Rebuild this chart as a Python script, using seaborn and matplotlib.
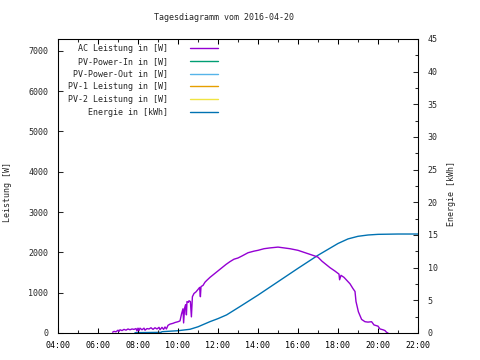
import numpy as np
import pandas as pd
import matplotlib
matplotlib.use("Agg")
import matplotlib.pyplot as plt
import seaborn as sns

# ---------------- data ----------------
title = "Tagesdiagramm vom 2016-04-20"
series_labels = ["AC Leistung in [W]", "PV-Power-In in [W]", "PV-Power-Out in [W]",
                 "PV-1 Leistung in [W]", "PV-2 Leistung in [W]", "Energie in [kWh]"]
series_colors = ["#9400D3", "#009E73", "#56B4E9", "#E69F00", "#F0E442", "#0072B2"]

ac_time = [6.73, 6.80, 6.90, 7.00, 7.05, 7.10, 7.20, 7.30, 7.40, 7.50, 7.60, 7.70, 7.80,
           7.90, 7.95, 8.00, 8.05, 8.10, 8.20, 8.30, 8.35, 8.45, 8.55, 8.65, 8.75, 8.85,
           8.95, 9.05, 9.10, 9.20, 9.28, 9.35, 9.42, 9.50, 9.60, 9.75, 9.85, 10.00, 10.10,
           10.18, 10.25, 10.28, 10.33, 10.38, 10.42, 10.45, 10.52, 10.55, 10.62, 10.67,
           10.72, 10.80, 10.90, 11.00, 11.08, 11.12, 11.15, 11.25, 11.35, 11.45, 11.60,
           11.75, 11.90, 12.00, 12.20, 12.40, 12.60, 12.80, 13.00, 13.20, 13.50, 13.80,
           14.00, 14.30, 14.60, 15.00, 15.30, 15.60, 16.00, 16.30, 16.60, 16.90, 17.00,
           17.20, 17.40, 17.60, 17.85, 18.05, 18.08, 18.15, 18.30, 18.45, 18.60, 18.75,
           18.85, 18.90, 19.02, 19.18, 19.35, 19.50, 19.68, 19.80, 20.00, 20.10, 20.25,
           20.35, 20.43, 20.50]
ac_power = [20, 40, 30, 70, 40, 80, 60, 90, 70, 100, 80, 100, 90,
            110, 50, 120, 60, 120, 80, 120, 70, 110, 100, 130, 90, 130,
            100, 140, 80, 140, 90, 150, 100, 190, 220, 240, 260, 280, 300,
            480, 600, 250, 620, 700, 450, 780, 760, 800, 780, 400,
            900, 980, 1020, 1080, 1130, 900, 1150, 1180, 1260, 1310, 1380,
            1440, 1500, 1540, 1620, 1700, 1770, 1830, 1860, 1910, 1990, 2030,
            2050, 2090, 2110, 2130, 2110, 2090, 2050, 2000, 1950, 1900, 1880,
            1780, 1700, 1620, 1535, 1460, 1320, 1430, 1380, 1300, 1220, 1100,
            1030, 780, 525, 337, 280, 270, 280, 200, 170, 100, 80,
            60, 16, 0]

pv_in_time, pv_in_power = [], []
pv_out_time, pv_out_power = [], []
pv1_time, pv1_power = [], []
pv2_time, pv2_power = [], []

energy_time = [7.85, 9.15, 9.20, 10.0, 10.6, 11.0, 11.6, 12.0, 12.43, 13.1, 14.0, 15.0,
               16.0, 17.0, 18.0, 18.5, 19.0, 19.5, 20.0, 21.0, 22.0]
energy_kwh = [0.05, 0.1, 0.2, 0.35, 0.57, 0.95, 1.74, 2.2, 2.77, 4.05, 5.8, 7.85,
              9.9, 11.9, 13.7, 14.4, 14.8, 15.0, 15.1, 15.15, 15.15]

x_ticks = [4, 6, 8, 10, 12, 14, 16, 18, 20, 22]
x_ticklabels = ["04:00", "06:00", "08:00", "10:00", "12:00", "14:00", "16:00",
                "18:00", "20:00", "22:00"]
y1_ticks = [0, 1000, 2000, 3000, 4000, 5000, 6000, 7000]
y2_ticks = [0, 5, 10, 15, 20, 25, 30, 35, 40, 45]
y1_label = "Leistung [W]"
y2_label = "Energie [kWh]"

# ---------------- style ----------------
sns.set_style("ticks")
plt.rcParams["font.family"] = ["DejaVu Sans Mono", "DejaVu Sans"]
fs = 6

W, H = 480, 360
fig = plt.figure(figsize=(4.8, 3.6), dpi=100)
ax = fig.add_axes([58 / W, 27 / H, 360 / W, 294 / H])
ax2 = ax.twinx()
ax.set_zorder(2)
ax.patch.set_visible(False)

ac_df = pd.DataFrame({"t": ac_time, "p": ac_power})
en_df = pd.DataFrame({"t": energy_time, "e": energy_kwh})

sns.lineplot(data=ac_df, x="t", y="p", ax=ax, color=series_colors[0], lw=1.0,
             estimator=None, sort=False, legend=False)
h_ac = ax.get_lines()[-1]
h_ac.set_label(series_labels[0])

empty = [(pv_in_time, pv_in_power), (pv_out_time, pv_out_power),
         (pv1_time, pv1_power), (pv2_time, pv2_power)]
h_empty = []
for (tt, pp), lab, col in zip(empty, series_labels[1:5], series_colors[1:5]):
    ln, = ax.plot(tt, pp, color=col, lw=1.0, label=lab)
    h_empty.append(ln)

sns.lineplot(data=en_df, x="t", y="e", ax=ax2, color=series_colors[5], lw=1.0,
             estimator=None, sort=False, legend=False)
h_en = ax2.get_lines()[-1]
h_en.set_label(series_labels[5])

ax.set_xlim(4, 22)
ax.set_ylim(0, 7290)
ax2.set_ylim(0, 45)

ax.set_xticks(x_ticks)
ax.set_xticklabels(x_ticklabels)
ax.set_xticks(np.arange(5, 22, 2), minor=True)
ax.set_yticks(y1_ticks)
ax2.set_yticks(y2_ticks)
ax2.set_yticks(np.arange(2.5, 45, 5), minor=True)

ax.tick_params(axis="x", which="major", direction="in", length=3.5, width=0.75,
               top=True, bottom=True, labelsize=fs, pad=6, colors="black")
ax.tick_params(axis="x", which="minor", direction="in", length=2, width=0.75,
               top=True, bottom=True)
ax.tick_params(axis="y", which="major", direction="in", length=3.5, width=0.75,
               left=True, right=False, labelsize=fs, pad=7)
ax2.tick_params(axis="y", which="major", direction="in", length=3.5, width=0.75,
                right=True, left=False, labelsize=fs, pad=7)
ax2.tick_params(axis="y", which="minor", direction="in", length=2, width=0.75,
                right=True, left=False)

for a in (ax, ax2):
    for s in a.spines.values():
        s.set_visible(True)
        s.set_color("black")
        s.set_linewidth(0.75)
    a.set_xlabel("")
    a.set_ylabel("")

fig.text(224 / W, 1 - 18 / H, title, ha="center", va="center", fontsize=fs)
fig.text(8 / W, 1 - 192 / H, y1_label, rotation=90, ha="center", va="center",
         fontsize=fs)
fig.text(452 / W, 1 - 194 / H, y2_label, rotation=90, ha="center", va="center",
         fontsize=fs)

handles = [h_ac] + h_empty + [h_en]
leg = ax.legend(handles=handles, labels=series_labels, loc="upper right",
                bbox_to_anchor=(218 / W, 1 - 44 / H), bbox_transform=fig.transFigure,
                frameon=False, fontsize=fs, markerfirst=False, handlelength=3.4,
                handletextpad=2.6, labelspacing=0.45, borderpad=0, borderaxespad=0)

fig.savefig("out.png", dpi=100)
